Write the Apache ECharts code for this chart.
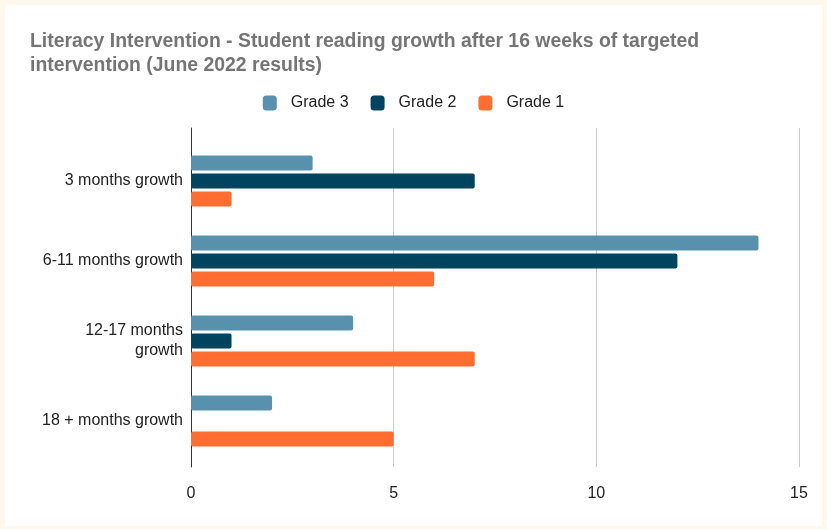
<!DOCTYPE html>
<html><head><meta charset="utf-8">
<script src="https://cdn.jsdelivr.net/npm/echarts@6/dist/echarts.min.js"></script>
<style>
html,body{margin:0;padding:0;background:#fff8ec;width:827px;height:529px;overflow:hidden}
#c{position:absolute;left:5px;top:5px;width:817px;height:521px;background:#fff}
</style></head>
<body><div id="c"></div>
<script>
const categories = ['3 months growth', '6-11 months growth', '12-17 months\ngrowth', '18 + months growth'];
const grade3 = [3, 14, 4, 2];
const grade2 = [7, 12, 1, 0];
const grade1 = [1, 6, 7, 5];
const xTicks = [0, 5, 10, 15];
const titleText = 'Literacy Intervention - Student reading growth after 16 weeks of targeted\nintervention (June 2022 results)';

const chart = echarts.init(document.getElementById('c'), null, {renderer: 'canvas'});
const font = 'Arial, "Liberation Sans", sans-serif';
const mk = (name, data, color) => ({
  name, type: 'bar', data, xAxisIndex: 1, yAxisIndex: 1,
  barWidth: 15, barGap: '20%',
  itemStyle: {color, borderRadius: 2}
});
chart.setOption({
  animation: false,
  textStyle: {fontFamily: font},
  title: {
    text: titleText, left: 20, top: 19,
    textStyle: {fontFamily: font, fontSize: 19.4, fontWeight: 'bold', color: '#757575', lineHeight: 24.5}
  },
  legend: {
    top: 85, left: 'center', itemWidth: 14, itemHeight: 15, itemGap: 22, icon: 'roundRect',
    textStyle: {fontFamily: font, fontSize: 16, color: '#222', padding: [0, 0, 0, 9]},
    data: ['Grade 3', 'Grade 2', 'Grade 1']
  },
  grid: [
    {left: 186, right: 23, top: 123, bottom: 59},
    {left: 186, right: 23, top: 136, height: 320}
  ],
  xAxis: [
    {type: 'value', gridIndex: 0, min: xTicks[0], max: xTicks[xTicks.length - 1], interval: 5,
     axisLine: {show: false}, axisTick: {show: false},
     splitLine: {lineStyle: {color: '#cccccc', width: 1}},
     axisLabel: {fontFamily: font, fontSize: 16, color: '#222', margin: 19}},
    {type: 'value', gridIndex: 1, min: xTicks[0], max: xTicks[xTicks.length - 1], show: false}
  ],
  yAxis: [
    {type: 'category', gridIndex: 0, data: [''], axisTick: {show: false}, axisLabel: {show: false},
     axisLine: {show: true, lineStyle: {color: '#333', width: 1}}},
    {type: 'category', gridIndex: 1, data: categories, inverse: true,
     axisLine: {show: false}, axisTick: {show: false},
     axisLabel: {fontFamily: font, fontSize: 16, color: '#222', margin: 8, lineHeight: 20, align: 'right'}}
  ],
  series: [
    mk('Grade 3', grade3, '#5891ae'),
    mk('Grade 2', grade2, '#01445f'),
    mk('Grade 1', grade1, '#ff6d31')
  ]
});
</script></body></html>
